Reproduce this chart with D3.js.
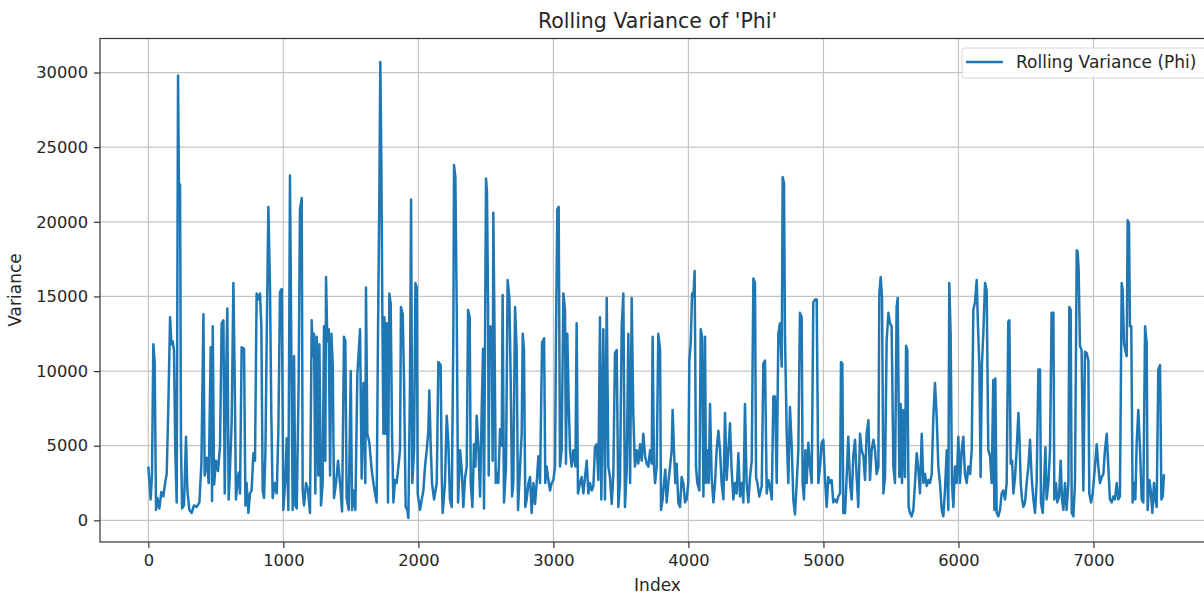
<!DOCTYPE html>
<html>
<head>
<meta charset="utf-8">
<script src="https://cdn.jsdelivr.net/npm/d3@7"></script>
<style>
  body { margin: 0; background: #fff; }
  text { font-family: "DejaVu Sans", sans-serif; fill: #262626; }
</style>
</head>
<body>
<div id="vis"></div>
<script>
// rolling variance of 'Phi', [index, variance]
var phiVariance = [
[0,3600],[8,2600],[17,1400],[27,3000],[37,11800],[47,10600],[57,700],[67,1500],[82,800],[96,1900],
[111,1600],[126,2600],[136,3100],[148,7600],[161,13600],[171,11800],[180,12000],[190,11400],[200,4500],[210,1200],
[220,29800],[227,21900],[235,22500],[242,5000],[250,800],[264,1000],[279,5600],[289,2000],[304,700],[321,500],
[338,1000],[358,900],[378,1200],[393,3800],[408,13800],[417,3000],[432,4200],[447,2500],[462,11600],[472,1300],
[477,13000],[487,2400],[501,4000],[516,3300],[531,5000],[543,13200],[556,13400],[566,1800],[575,9000],[585,14200],
[595,1400],[605,3500],[617,6500],[630,15900],[640,9200],[649,1400],[659,2500],[669,3200],[679,1800],[691,11600],
[709,11500],[719,1000],[728,2500],[741,500],[753,1800],[765,2000],[778,4500],[790,4000],[802,15200],[815,14800],
[827,15200],[837,13000],[847,2000],[857,1500],[867,4500],[876,11800],[889,21000],[901,15600],[911,7000],[921,1500],
[936,2500],[951,1800],[963,6000],[975,15300],[988,15500],[1000,700],[1015,2800],[1025,5500],[1037,700],[1049,23100],
[1059,11500],[1069,700],[1079,11000],[1089,1000],[1099,800],[1113,9000],[1123,20800],[1136,21600],[1143,2000],[1153,1000],
[1168,2500],[1183,2000],[1197,500],[1210,13400],[1218,11000],[1227,12500],[1237,1800],[1247,12300],[1259,3000],[1267,11800],
[1279,1000],[1291,2500],[1301,13000],[1311,4000],[1316,16300],[1326,12000],[1336,12800],[1346,3000],[1356,12500],[1366,10300],
[1375,1500],[1390,2500],[1405,4000],[1420,2500],[1435,600],[1449,12300],[1459,12000],[1469,1500],[1484,700],[1499,10000],
[1509,700],[1523,2000],[1533,700],[1548,9800],[1568,12800],[1580,2800],[1593,9200],[1607,2500],[1612,15600],[1622,5800],
[1637,5200],[1654,3400],[1667,2500],[1679,1800],[1691,1200],[1701,12500],[1711,21900],[1718,30700],[1726,23700],[1733,14100],
[1741,5800],[1748,13600],[1756,5800],[1765,13200],[1775,1200],[1785,15200],[1795,14500],[1805,5800],[1815,1200],[1827,2700],
[1839,2500],[1852,3600],[1864,4700],[1871,14300],[1884,13800],[1894,9200],[1906,900],[1918,700],[1926,150],[1938,9200],
[1946,21500],[1955,2500],[1968,4700],[1978,15900],[1988,15600],[1995,1800],[2012,700],[2027,1500],[2037,2000],[2049,3600],
[2062,4700],[2074,6000],[2081,8700],[2091,5100],[2101,2500],[2116,1400],[2136,2500],[2148,10600],[2165,10400],[2173,3000],
[2180,500],[2197,2500],[2210,7000],[2222,5200],[2234,1400],[2247,900],[2259,12500],[2264,23800],[2274,23000],[2284,14100],
[2294,1200],[2309,4700],[2321,3400],[2333,900],[2346,2900],[2358,3600],[2368,14100],[2380,13600],[2388,2500],[2400,900],
[2412,5100],[2422,3600],[2432,7000],[2444,5000],[2457,1600],[2469,7400],[2479,11500],[2486,800],[2501,22900],[2508,22000],
[2516,14600],[2521,3000],[2526,12800],[2536,13000],[2543,11400],[2550,4000],[2555,20600],[2563,13500],[2573,2500],[2580,3200],
[2592,2500],[2605,6100],[2617,5000],[2624,15100],[2634,1200],[2649,3600],[2661,16100],[2674,14900],[2684,9200],[2694,1600],
[2703,2500],[2716,14300],[2728,11400],[2738,700],[2753,3600],[2765,5800],[2773,12500],[2782,11400],[2792,900],[2802,1400],
[2815,2500],[2827,2900],[2839,500],[2852,2500],[2864,1100],[2876,2500],[2889,4300],[2901,2500],[2916,11900],[2931,12200],
[2940,2500],[2950,3600],[2963,2700],[2975,2000],[2987,2500],[3000,2700],[3012,3600],[3019,12200],[3029,20800],[3039,21000],
[3049,3600],[3061,4700],[3074,15200],[3086,14100],[3093,3800],[3103,12500],[3113,8000],[3123,4700],[3135,3600],[3148,4700],
[3163,3600],[3172,13200],[3182,1800],[3197,2500],[3209,2900],[3222,1800],[3234,2900],[3247,4000],[3259,1800],[3271,2500],
[3284,2000],[3296,2300],[3308,4900],[3321,5100],[3333,2700],[3345,13600],[3355,1400],[3370,12800],[3382,1400],[3395,14900],
[3407,3600],[3419,2900],[3432,1100],[3444,3100],[3456,11200],[3469,11400],[3481,900],[3493,2500],[3506,13000],[3518,15200],
[3530,900],[3543,3400],[3555,12500],[3568,2500],[3580,14900],[3592,7000],[3604,3600],[3617,4700],[3629,3800],[3642,5100],
[3654,4000],[3666,5800],[3679,4300],[3691,3800],[3703,3600],[3716,4700],[3728,3800],[3735,12300],[3745,3600],[3753,2500],
[3765,3600],[3777,12500],[3790,11400],[3797,700],[3809,1400],[3819,2500],[3829,3400],[3839,1200],[3851,2500],[3864,3600],
[3876,4700],[3883,7400],[3893,4700],[3903,2500],[3913,3800],[3925,1200],[3938,900],[3950,2900],[3962,2500],[3975,1200],
[3987,1400],[3999,2500],[4007,10700],[4017,11900],[4027,15200],[4037,15000],[4046,16700],[4056,3600],[4066,2500],[4081,2000],
[4091,12800],[4101,12300],[4111,1600],[4123,12300],[4130,2500],[4140,4700],[4150,2500],[4160,7800],[4172,2900],[4185,1200],
[4197,2500],[4209,4700],[4222,6000],[4234,4700],[4246,2500],[4259,1400],[4271,7200],[4283,2700],[4296,4700],[4308,6500],
[4320,3400],[4333,1400],[4345,2500],[4357,1800],[4370,4500],[4382,1600],[4394,2500],[4407,1200],[4419,7800],[4431,2500],
[4444,1200],[4456,2900],[4469,4000],[4481,16200],[4493,15900],[4501,2900],[4511,2500],[4525,1600],[4543,2300],[4555,10500],
[4567,10700],[4580,1800],[4592,2700],[4604,2300],[4617,1400],[4629,8300],[4641,8300],[4654,2500],[4666,12500],[4678,13200],
[4691,10300],[4698,23000],[4708,22600],[4715,12500],[4728,5800],[4740,2500],[4752,7600],[4765,5000],[4777,1400],[4789,400],
[4802,2500],[4814,4700],[4826,13900],[4839,13600],[4846,2500],[4856,1400],[4866,4700],[4876,2500],[4888,5200],[4901,3600],
[4913,2500],[4925,14600],[4938,14800],[4950,14800],[4962,2500],[4975,3600],[4987,5200],[4999,5400],[5012,2700],[5024,900],
[5036,2900],[5049,2500],[5061,2700],[5073,1200],[5086,1400],[5098,1200],[5110,1600],[5123,1800],[5130,10600],[5140,10500],
[5147,500],[5160,500],[5172,2900],[5184,5600],[5197,2500],[5209,1400],[5221,4300],[5234,5400],[5246,2900],[5258,900],
[5271,5800],[5283,4700],[5296,4300],[5308,2700],[5320,5800],[5333,6700],[5345,2700],[5357,4700],[5370,5400],[5382,4700],
[5394,3100],[5407,3600],[5414,15200],[5424,16300],[5434,14900],[5444,1800],[5456,2900],[5468,12000],[5481,13900],[5493,13200],
[5505,13000],[5518,3600],[5530,2500],[5542,14300],[5550,14900],[5562,2900],[5572,7800],[5582,2500],[5592,7400],[5604,2900],
[5612,11700],[5621,11400],[5631,900],[5641,500],[5653,270],[5666,700],[5678,2500],[5691,4500],[5703,3400],[5715,1800],
[5728,5800],[5740,2500],[5752,3100],[5765,2300],[5777,2700],[5789,2500],[5802,3100],[5814,6900],[5826,9200],[5839,6900],
[5851,3600],[5863,2500],[5876,700],[5888,270],[5900,2000],[5913,4700],[5925,700],[5932,15900],[5942,12500],[5952,2500],
[5962,900],[5974,3600],[5987,2500],[5999,5600],[6011,2500],[6024,4700],[6036,5600],[6048,3100],[6061,2500],[6073,3600],
[6086,3100],[6098,4700],[6110,14100],[6122,14600],[6135,16100],[6145,12900],[6155,10300],[6164,2900],[6174,10500],[6184,12500],
[6197,15900],[6209,15400],[6221,4700],[6234,4300],[6246,2500],[6258,9400],[6266,700],[6273,9500],[6283,500],[6295,270],
[6308,700],[6320,1800],[6332,2000],[6345,1400],[6357,2500],[6369,13300],[6377,13400],[6387,3800],[6397,4000],[6407,1800],
[6419,2900],[6431,4700],[6444,7200],[6451,5800],[6461,2500],[6471,1400],[6481,900],[6493,1200],[6505,2500],[6518,3600],
[6530,5400],[6542,2900],[6555,1400],[6567,500],[6579,2500],[6592,10100],[6604,10100],[6611,1200],[6624,500],[6634,2500],
[6644,4900],[6653,1400],[6666,2500],[6678,4700],[6690,13900],[6703,13900],[6710,1400],[6722,2500],[6732,1200],[6745,1600],
[6757,4000],[6767,1400],[6777,700],[6789,2500],[6801,700],[6814,2500],[6821,14300],[6831,14100],[6839,500],[6851,270],
[6863,2500],[6876,18100],[6883,18000],[6890,16800],[6900,11700],[6912,11400],[6925,2000],[6937,11300],[6950,11200],[6962,10700],
[6969,1800],[6982,1200],[6994,1800],[7011,3600],[7024,5100],[7036,3600],[7048,2500],[7061,2900],[7073,3100],[7085,4700],
[7098,5800],[7110,3600],[7122,1400],[7135,1200],[7147,1600],[7159,1400],[7172,2500],[7184,1400],[7196,1600],[7209,15900],
[7216,15400],[7226,11900],[7236,11400],[7246,11000],[7253,20100],[7263,19900],[7270,13000],[7280,13000],[7290,1200],[7300,2500],
[7310,1400],[7320,5200],[7332,7400],[7345,4700],[7357,1400],[7369,1200],[7382,13000],[7394,11900],[7401,700],[7414,2700],
[7424,2000],[7436,500],[7448,2500],[7458,1400],[7468,900],[7480,10100],[7493,10400],[7503,1400],[7513,1600],[7522,3100]
];

var xTicks = [0, 1000, 2000, 3000, 4000, 5000, 6000, 7000];
var yTicks = [0, 5000, 10000, 15000, 20000, 25000, 30000];

var chartTitle = "Rolling Variance of 'Phi'";
var xLabel = "Index";
var yLabel = "Variance";
var legendLabel = "Rolling Variance (Phi)";

// axes box (right side runs past the window, like the original crop)
var margin = {top: 38.5, left: 100, bottom: 542, right: 1215};

var x = d3.scaleLinear().domain([-358, 7900]).range([margin.left, margin.right]);
var y = d3.scaleLinear().domain([-1450, 32280]).range([margin.bottom, margin.top]);

var svg = d3.select("#vis").append("svg")
    .attr("width", 1204)
    .attr("height", 596);

svg.append("clipPath").attr("id", "plotclip")
  .append("rect")
    .attr("x", margin.left).attr("y", margin.top)
    .attr("width", margin.right - margin.left)
    .attr("height", margin.bottom - margin.top);

// grid
svg.append("g").selectAll("line")
    .data(xTicks).enter().append("line")
    .attr("x1", function(d) { return x(d); })
    .attr("x2", function(d) { return x(d); })
    .attr("y1", margin.top).attr("y2", margin.bottom)
    .attr("stroke", "#c4c4c4").attr("stroke-width", 1.2);

svg.append("g").selectAll("line")
    .data(yTicks).enter().append("line")
    .attr("x1", margin.left).attr("x2", margin.right)
    .attr("y1", function(d) { return y(d); })
    .attr("y2", function(d) { return y(d); })
    .attr("stroke", "#c4c4c4").attr("stroke-width", 1.2);

// the line
var line = d3.line()
    .x(function(d) { return x(d[0]); })
    .y(function(d) { return y(d[1]); });

svg.append("path")
    .datum(phiVariance)
    .attr("clip-path", "url(#plotclip)")
    .attr("fill", "none")
    .attr("stroke", "#1f77b4")
    .attr("stroke-width", 2.5)
    .attr("stroke-linejoin", "round")
    .attr("d", line);

// axes
var xAxis = svg.append("g")
    .attr("transform", "translate(0," + margin.bottom + ")")
    .call(d3.axisBottom(x).tickValues(xTicks).tickFormat(d3.format("d")).tickSize(6).tickPadding(6));

var yAxis = svg.append("g")
    .attr("transform", "translate(" + margin.left + ",0)")
    .call(d3.axisLeft(y).tickValues(yTicks).tickFormat(d3.format("d")).tickSize(6).tickPadding(6));

[xAxis, yAxis].forEach(function(a) {
  a.select(".domain").remove();
  a.selectAll(".tick line").attr("stroke", "#333").attr("stroke-width", 1.2);
  a.selectAll(".tick text").attr("font-size", 16.3).attr("font-family", "DejaVu Sans").attr("fill", "#262626");
});

// frame
svg.append("rect")
    .attr("x", margin.left).attr("y", margin.top)
    .attr("width", margin.right - margin.left)
    .attr("height", margin.bottom - margin.top)
    .attr("fill", "none").attr("stroke", "#333").attr("stroke-width", 1.2);

// title and labels
svg.append("text")
    .attr("x", (margin.left + margin.right) / 2).attr("y", 28)
    .attr("text-anchor", "middle").attr("font-size", 20.5)
    .text(chartTitle);

svg.append("text")
    .attr("x", (margin.left + margin.right) / 2).attr("y", 591)
    .attr("text-anchor", "middle").attr("font-size", 17)
    .text(xLabel);

svg.append("text")
    .attr("transform", "translate(21,290) rotate(-90)")
    .attr("text-anchor", "middle").attr("font-size", 17)
    .text(yLabel);

// legend
var legend = svg.append("g");
legend.append("rect")
    .attr("x", 962).attr("y", 48).attr("width", 260).attr("height", 30)
    .attr("rx", 3).attr("fill", "#fff").attr("fill-opacity", 0.85)
    .attr("stroke", "#d6d6d6");
legend.append("line")
    .attr("x1", 966).attr("x2", 1003).attr("y1", 62).attr("y2", 62)
    .attr("stroke", "#1f77b4").attr("stroke-width", 2.5);
legend.append("text")
    .attr("x", 1016).attr("y", 68).attr("font-size", 17)
    .text(legendLabel);
</script>
</body>
</html>
